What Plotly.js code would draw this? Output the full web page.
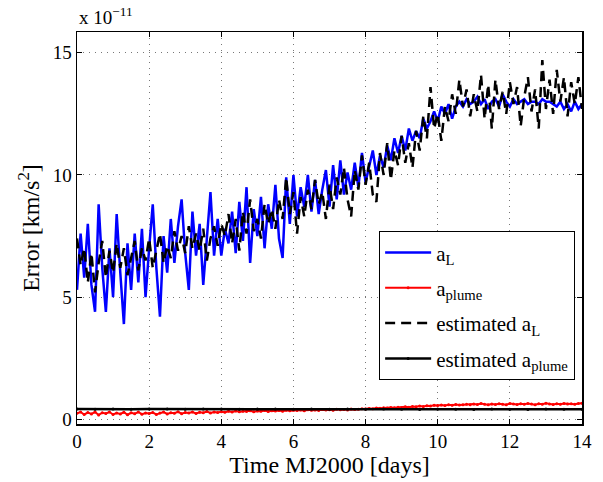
<!DOCTYPE html>
<html>
<head>
<meta charset="utf-8">
<script src="https://cdn.plot.ly/plotly-3.0.1.min.js"></script>
<style>html,body{margin:0;padding:0;background:#fff;}#chart{width:603px;height:482px;}</style>
</head>
<body>
<div id="chart"></div>
<script>
// Sampling step of the time grid (days)
var DT = 0.1;
var DT_PLUME_EST = 0.5;

// a_L (x 1e-11 km/s^2), sampled every 0.1 day from 0 to 14
var aL = [
 5.3,7.6,5.8,8.0,5.5,4.4,8.8,6.2,4.4,7.0,
 5.0,8.4,6.0,3.9,7.2,5.3,7.6,5.6,7.8,5.0,
 7.0,8.8,6.2,4.2,7.5,6.0,8.2,6.4,7.9,9.0,
 6.8,5.3,8.5,6.7,8.0,5.5,7.4,9.3,6.7,8.2,
 6.7,7.8,7.2,8.5,6.8,8.9,7.3,9.5,6.4,8.6,
 7.5,9.1,7.0,8.8,7.8,9.6,7.4,6.6,9.9,8.0,
 10.0,8.3,9.5,8.7,10.0,8.5,9.8,8.4,9.4,10.2,
 8.7,10.4,9.0,10.6,9.2,10.1,9.4,10.5,9.5,10.9,
 9.7,10.3,11.0,10.0,10.8,10.3,11.2,10.6,11.5,10.9,
 11.6,11.0,11.9,11.4,11.8,11.5,12.3,11.9,12.2,12.6,
 12.2,12.8,12.5,12.9,12.3,12.8,13.0,12.8,13.1,12.9,
 13.0,13.2,12.9,13.1,12.7,13.0,13.1,12.8,13.3,13.0,
 12.8,13.1,12.9,13.0,13.1,12.9,13.0,13.0,12.9,13.1,
 13.0,13.0,12.9,12.8,13.0,12.7,12.9,12.6,13.0,12.7,
 12.9
];

// a_plume (x 1e-11 km/s^2), every 0.1 day
var aPlume = [
 0.25,0.30,0.20,0.28,0.22,0.30,0.18,0.27,0.24,0.30,
 0.20,0.26,0.22,0.29,0.19,0.27,0.23,0.30,0.21,0.26,
 0.24,0.28,0.20,0.26,0.30,0.22,0.27,0.25,0.31,0.23,
 0.28,0.26,0.30,0.24,0.29,0.27,0.32,0.26,0.30,0.28,
 0.31,0.29,0.33,0.30,0.34,0.31,0.33,0.32,0.35,0.31,
 0.34,0.33,0.36,0.32,0.35,0.34,0.36,0.33,0.37,0.35,
 0.37,0.36,0.38,0.35,0.39,0.37,0.38,0.36,0.40,0.38,
 0.39,0.37,0.41,0.39,0.40,0.38,0.42,0.40,0.41,0.43,
 0.42,0.44,0.43,0.46,0.45,0.47,0.46,0.49,0.48,0.50,
 0.49,0.52,0.50,0.53,0.52,0.55,0.53,0.56,0.55,0.58,
 0.57,0.59,0.57,0.60,0.58,0.61,0.59,0.60,0.62,0.60,
 0.63,0.61,0.65,0.62,0.60,0.63,0.61,0.64,0.62,0.60,
 0.65,0.63,0.61,0.64,0.62,0.65,0.63,0.60,0.64,0.62,
 0.66,0.63,0.61,0.64,0.62,0.65,0.63,0.64,0.62,0.65,
 0.66
];

// estimated a_L (x 1e-11 km/s^2), every 0.1 day
var estAL = [
 7.4,6.3,7.0,5.6,6.8,5.2,6.4,7.3,5.8,6.9,
 6.0,7.2,6.2,7.0,5.9,6.6,7.3,6.1,7.0,6.5,
 7.4,6.2,6.9,7.6,6.4,7.1,6.6,7.7,6.9,7.5,
 6.8,7.9,7.0,7.6,6.9,7.8,6.5,7.4,7.9,7.1,
 8.0,7.5,8.4,7.2,8.2,6.9,8.5,7.6,9.0,7.7,
 8.2,7.4,8.8,8.0,8.6,7.8,9.0,8.2,9.9,8.4,
 9.3,7.6,9.1,8.3,9.4,8.6,9.8,8.8,9.3,8.2,
 9.6,8.6,9.9,9.2,10.3,9.0,8.3,10.2,9.4,10.8,
 9.6,10.5,9.2,8.9,10.9,10.0,11.3,9.8,11.0,10.4,
 11.6,10.5,11.3,10.3,11.8,11.0,12.4,11.5,13.6,11.9,
 12.5,11.4,12.8,12.2,13.3,12.5,13.9,12.8,13.5,12.4,
 13.3,12.6,14.1,12.3,13.7,11.9,13.9,12.7,13.4,12.5,
 13.8,12.9,13.6,12.0,13.2,14.0,12.6,13.5,11.9,14.7,
 12.7,13.9,12.5,14.3,13.0,14.0,12.4,13.8,12.9,14.0,
 12.7
];

// estimated a_plume (x 1e-11 km/s^2), every 0.5 day
var estPlume = [
 0.42,0.41,0.42,0.41,0.42,0.42,0.41,0.42,0.42,0.41,
 0.42,0.42,0.41,0.42,0.41,0.42,0.41,0.42,0.41,0.40,
 0.42,0.41,0.40,0.42,0.41,0.40,0.42,0.41,0.41
];

var names = ['a<sub>L</sub>', 'a<sub>plume</sub>', 'estimated a<sub>L</sub>', 'estimated a<sub>plume</sub>'];
var xTickVals = [0,2,4,6,8,10,12,14];
var yTickVals = [0,5,10,15];

function grid(n, dt){ var t=[]; for (var i=0;i<n;i++) t.push(Math.round(i*dt*1000)/1000); return t; }
var tMain = grid(aL.length, DT);
var tPlumeEst = grid(estPlume.length, DT_PLUME_EST);

var font = '"Liberation Serif", "Times New Roman", serif';

var traces = [
 {x:tMain, y:aL, name:names[0], legendgroup:'g1', mode:'lines', line:{color:'#0000ff', width:2.5}},
 {x:tMain, y:aPlume, name:names[1], legendgroup:'g2', mode:'lines+markers', line:{color:'#ff0000', width:2}, marker:{size:3, color:'#ff0000'}},
 {x:tMain, y:estAL, name:names[2], legendgroup:'g3', mode:'lines', line:{color:'#000000', width:2.5, dash:'10px,6px'}},
 {x:tPlumeEst, y:estPlume, name:names[3], legendgroup:'g4', mode:'lines+markers', line:{color:'#000000', width:2.5}, marker:{size:3, color:'#000000'}}
];

var axisCommon = {
 showline:true, linecolor:'#000', linewidth:1.5, mirror:'ticks',
 ticks:'inside', ticklen:5, tickcolor:'#000', tickwidth:1,
 showgrid:true, gridcolor:'#777', griddash:'1px,5px', gridwidth:1,
 zeroline:false, tickfont:{family:font, size:19, color:'#000'}
};

var layout = {
 width:603, height:482,
 margin:{l:77, r:21, t:32, b:58},
 paper_bgcolor:'#fff', plot_bgcolor:'#fff',
 showlegend:true,
 xaxis: Object.assign({}, axisCommon, {range:[0,14], tickvals:xTickVals,
   title:{text:'Time MJ2000 [days]', font:{family:font, size:24, color:'#000'}, standoff:4}}),
 yaxis: Object.assign({}, axisCommon, {range:[-0.19,15.85], tickvals:yTickVals,
   title:{text:'Error [km/s<sup>2</sup>]', font:{family:font, size:24, color:'#000'}, standoff:6}}),
 legend:{x:0.986, y:0.492, xanchor:'right', yanchor:'top',
   bgcolor:'#fff', bordercolor:'#000', borderwidth:1.2, itemwidth:46,
   font:{family:font, size:21, color:'#000'}, tracegroupgap:5},
 annotations:[{xref:'paper', yref:'paper', x:0, y:1, xanchor:'left', yanchor:'bottom',
   yshift:2, showarrow:false, text:'x 10<sup>−11</sup>', font:{family:font, size:19, color:'#000'}}]
};

Plotly.newPlot('chart', traces, layout, {staticPlot:true, displayModeBar:false});
</script>
</body>
</html>
